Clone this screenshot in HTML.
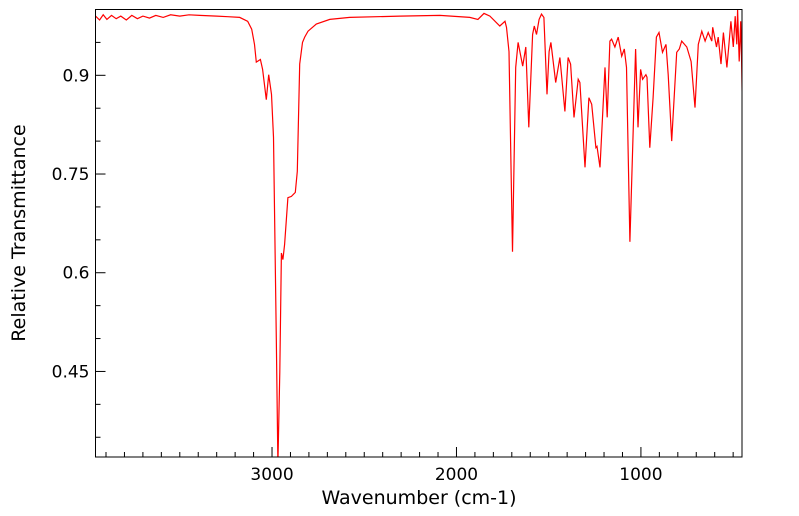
<!DOCTYPE html>
<html><head><meta charset="utf-8"><style>
html,body{margin:0;padding:0;background:#fff;}
svg{display:block;font-family:"DejaVu Sans","Liberation Sans",sans-serif;}
</style></head><body>
<svg id="chart" width="799" height="516"></svg>
<script>
const wavenumbers=[3957,3935,3915,3895,3870,3845,3820,3790,3760,3730,3700,3664,3630,3590,3550,3500,3450,3392,3300,3240,3175,3132,3110,3095,3085,3063,3051,3031,3018,3003,2992,2977,2968,2958,2949,2941,2932,2914,2895,2874,2863,2850,2835,2823,2805,2760,2687,2579,2307,2090,1928,1884,1851,1819,1765,1737,1729,1715,1696,1679,1666,1641,1624,1608,1587,1578,1566,1552,1539,1526,1509,1498,1488,1462,1439,1412,1395,1381,1363,1340,1331,1303,1282,1267,1244,1238,1222,1195,1183,1168,1159,1141,1123,1104,1090,1078,1060,1029,1016,1002,991,973,967,952,934,916,902,883,864,852,833,806,792,779,751,728,707,689,670,652,635,616,611,590,581,566,553,534,524,512,499,489,480,476,467,459,454,451];
const transmittance=[0.990,0.984,0.992,0.985,0.991,0.986,0.990,0.984,0.991,0.986,0.990,0.987,0.991,0.988,0.992,0.990,0.992,0.991,0.990,0.989,0.988,0.982,0.970,0.947,0.920,0.924,0.909,0.863,0.901,0.871,0.806,0.501,0.31,0.449,0.630,0.620,0.643,0.714,0.716,0.722,0.754,0.917,0.950,0.958,0.967,0.978,0.985,0.988,0.990,0.991,0.988,0.985,0.994,0.990,0.975,0.982,0.973,0.936,0.632,0.912,0.950,0.914,0.943,0.821,0.962,0.975,0.962,0.985,0.993,0.988,0.871,0.936,0.950,0.889,0.927,0.845,0.927,0.917,0.836,0.894,0.889,0.760,0.866,0.856,0.790,0.792,0.760,0.912,0.836,0.952,0.955,0.943,0.958,0.929,0.940,0.912,0.647,0.940,0.821,0.909,0.894,0.901,0.897,0.790,0.866,0.958,0.965,0.935,0.947,0.901,0.800,0.935,0.940,0.952,0.943,0.921,0.851,0.947,0.967,0.952,0.965,0.952,0.973,0.943,0.958,0.917,0.965,0.912,0.943,0.982,0.943,0.990,0.947,1.0,0.921,0.982,0.921,0.866];
const xTicks=[3000,2000,1000];
const xTickLabels=["3000","2000","1000"];
const yTicks=[0.45,0.6,0.75,0.9];
const yTickLabels=["0.45","0.6","0.75","0.9"];
const xDomain=[3957,452], yDomain=[0.32,1.0];
const L=95.5,R=742,T=9.5,B=457;
const sx=v=>L+(xDomain[0]-v)/(xDomain[0]-xDomain[1])*(R-L);
const sy=v=>B-(v-yDomain[0])/(yDomain[1]-yDomain[0])*(B-T);
const NS="http://www.w3.org/2000/svg";
const svg=document.getElementById('chart');
function mk(t,a,p){const e=document.createElementNS(NS,t);for(const k in a)e.setAttribute(k,a[k]);(p||svg).appendChild(e);return e;}
const defs=mk('defs',{});const cp=mk('clipPath',{id:'clip'},defs);mk('rect',{x:L,y:T,width:R-L,height:B-T},cp);
let d='';wavenumbers.forEach((w,i)=>{d+=(i?'L':'M')+sx(w).toFixed(1)+','+sy(transmittance[i]).toFixed(1);});
const line=mk('path',{d:d,fill:'none',stroke:'#ff0000','stroke-width':1.2,'clip-path':'url(#clip)'});


const frame=mk('rect',{x:L,y:T,width:R-L,height:B-T,fill:'none',stroke:'#000','stroke-width':1});


for(let w=3900;w>=500;w-=100){const x=sx(w);const major=w%1000===0;mk('line',{x1:x,x2:x,y1:B,y2:B-(major?10:5),stroke:'#000','stroke-width':1});}
xTicks.forEach((w,i)=>{const t=mk('text',{x:sx(w),y:B+23,'text-anchor':'middle','font-size':17,fill:'#000'});t.textContent=xTickLabels[i];

});
for(let k=7;k<=20;k++){const v=k*0.05;if(v<yDomain[0]||v>yDomain[1])continue;const y=sy(v);const major=yTicks.some(t=>Math.abs(t-v)<1e-6);mk('line',{x1:L,x2:L+(major?10:5),y1:y,y2:y,stroke:'#000','stroke-width':1});}
yTicks.forEach((v,i)=>{const t=mk('text',{x:L-6,y:sy(v)+6,'text-anchor':'end','font-size':17,fill:'#000'});t.textContent=yTickLabels[i];

});
const xt=mk('text',{x:419,y:504,'text-anchor':'middle','font-size':19,fill:'#000'});xt.textContent='Wavenumber (cm-1)';


const yt=mk('text',{x:0,y:0,'text-anchor':'middle','font-size':19,fill:'#000',transform:'translate(25,233) rotate(-90)'});yt.textContent='Relative Transmittance';


</script>
</body></html>
